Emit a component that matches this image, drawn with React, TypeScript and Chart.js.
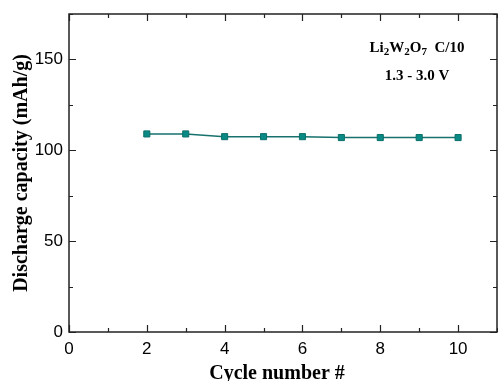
import React, { useEffect, useRef } from "react";
import { Chart, registerables } from "chart.js";

Chart.register(...registerables);

const cycles = [2, 3, 4, 5, 6, 7, 8, 9, 10];
const capacity = [109, 109, 107.5, 107.5, 107.5, 107, 107, 107, 107];
const xTickValues = [0, 2, 4, 6, 8, 10];
const yTickValues = [0, 50, 100, 150];
const xMinorStep = 1;
const yMinorStep = 25;
const xTitle = "Cycle number #";
const yTitle = "Discharge capacity (mAh/g)";
const annoLine2 = "1.3 - 3.0 V";

const SERIF = '"Liberation Serif", "Times New Roman", serif';
const SANS = '"Liberation Sans", Arial, sans-serif';

const framePlugin = {
  id: "framePlugin",
  afterDraw(chart: any) {
    const { ctx, chartArea } = chart;
    const { left, right, top, bottom } = chartArea;
    const xs = chart.scales.x;
    const ys = chart.scales.y;
    ctx.save();
    ctx.strokeStyle = "#222";
    ctx.lineWidth = 1.5;
    ctx.strokeRect(left, top, right - left, bottom - top);
    ctx.lineWidth = 1.2;
    ctx.beginPath();
    for (let v = xs.min; v <= xs.max + 1e-9; v += xMinorStep) {
      const px = Math.round(xs.getPixelForValue(v)) + 0.5;
      const major = xTickValues.includes(v);
      const len = major ? 7 : 4;
      ctx.moveTo(px, bottom);
      ctx.lineTo(px, bottom - len);
      ctx.moveTo(px, top);
      ctx.lineTo(px, top + len);
    }
    for (let v = ys.min; v <= ys.max + 1e-9; v += yMinorStep) {
      const py = Math.round(ys.getPixelForValue(v)) + 0.5;
      const major = yTickValues.includes(v);
      const len = major ? 7 : 4;
      ctx.moveTo(left, py);
      ctx.lineTo(left + len, py);
      ctx.moveTo(right, py);
      ctx.lineTo(right - len, py);
    }
    ctx.stroke();

    // axis titles
    ctx.fillStyle = "#000";
    ctx.font = `bold 20px ${SERIF}`;
    ctx.textAlign = "center";
    ctx.textBaseline = "alphabetic";
    ctx.fillText(xTitle, 277, 379);
    ctx.save();
    ctx.translate(27, (top + bottom) / 2);
    ctx.rotate(-Math.PI / 2);
    ctx.fillText(yTitle, 0, 0);
    ctx.restore();

    // annotation
    const cx = 417;
    const big = `bold 15px ${SERIF}`;
    const small = `bold 11px ${SERIF}`;
    const parts: [string, boolean][] = [
      ["Li", false], ["2", true], ["W", false], ["2", true], ["O", false], ["7", true], ["  C/10", false],
    ];
    let total = 0;
    for (const [t, sub] of parts) {
      ctx.font = sub ? small : big;
      total += ctx.measureText(t).width;
    }
    let x = cx - total / 2;
    ctx.textAlign = "left";
    for (const [t, sub] of parts) {
      ctx.font = sub ? small : big;
      ctx.fillText(t, x, sub ? 55 : 52);
      x += ctx.measureText(t).width;
    }
    ctx.font = big;
    ctx.textAlign = "center";
    ctx.fillText(annoLine2, cx, 80);
    ctx.restore();
  },
};

export default function App() {
  const ref = useRef<HTMLCanvasElement>(null);
  useEffect(() => {
    document.body.style.margin = "0";
    const chart = new Chart(ref.current!, {
      type: "line",
      data: {
        datasets: [
          {
            data: cycles.map((c, i) => ({ x: c, y: capacity[i] })),
            borderColor: "#17726e",
            backgroundColor: "#0a8a84",
            pointBorderColor: "#0b6f6a",
            pointStyle: "rect",
            pointRadius: 4.3,
            pointBorderWidth: 1,
            borderWidth: 1.5,
            tension: 0,
          },
        ],
      },
      options: {
        animation: false,
        responsive: false,
        layout: { autoPadding: false, padding: { top: 14, right: 1, left: 0, bottom: 0 } },
        plugins: { legend: { display: false }, tooltip: { enabled: false } },
        scales: {
          x: {
            type: "linear",
            min: 0,
            max: 11,
            grid: { display: false, drawTicks: false },
            border: { display: false },
            afterBuildTicks: (s: any) => {
              s.ticks = xTickValues.map((v) => ({ value: v }));
            },
            afterFit: (s: any) => {
              s.height = 49;
              s.paddingLeft = 0;
              s.paddingRight = 0;
            },
            ticks: {
              padding: 7,
              color: "#000",
              font: { family: SANS, size: 17 },
              maxRotation: 0,
            },
          },
          y: {
            min: 0,
            max: 175,
            grid: { display: false, drawTicks: false },
            border: { display: false },
            afterBuildTicks: (s: any) => {
              s.ticks = yTickValues.map((v) => ({ value: v }));
            },
            afterFit: (s: any) => {
              s.width = 69;
              s.paddingTop = 0;
              s.paddingBottom = 0;
            },
            ticks: {
              padding: 6,
              color: "#000",
              font: { family: SANS, size: 17 },
            },
          },
        },
      },
      plugins: [framePlugin],
    });
    return () => chart.destroy();
  }, []);
  return (
    <div style={{ width: 498, height: 381 }}>
      <canvas ref={ref} width={498} height={381} style={{ display: "block" }} />
    </div>
  );
}
